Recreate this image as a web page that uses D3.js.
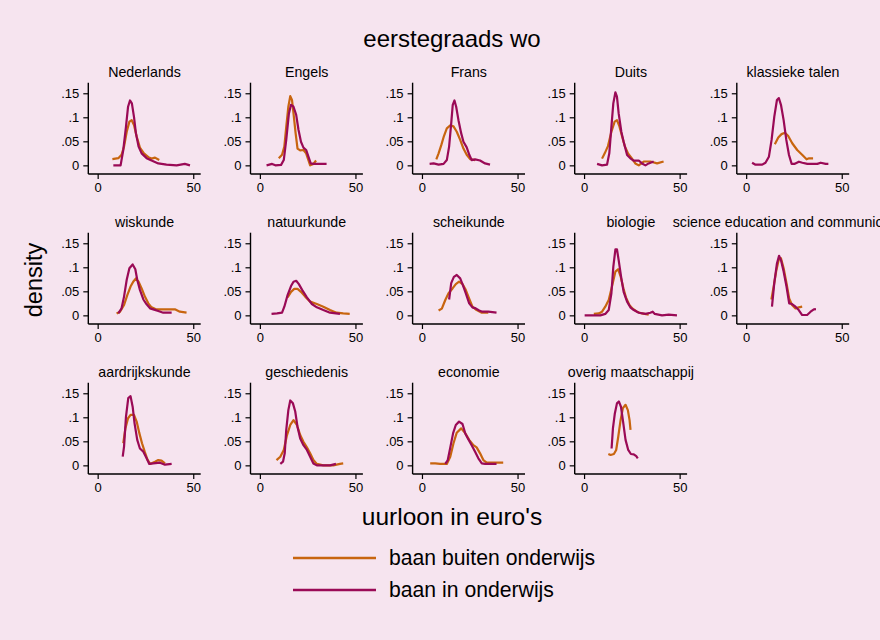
<!DOCTYPE html>
<html><head><meta charset="utf-8">
<script src="https://cdn.jsdelivr.net/npm/d3@7"></script>
<style>body{margin:0;background:#f6e4ef}svg{display:block}</style>
</head><body><svg id="c" width="880" height="640"></svg>
<script>
const panels = ["Nederlands","Engels","Frans","Duits","klassieke talen","wiskunde","natuurkunde","scheikunde","biologie","science education and communication","aardrijkskunde","geschiedenis","economie","overig maatschappij"];
const seriesNames = ["baan buiten onderwijs","baan in onderwijs"];
const yTicks = [0,0.05,0.1,0.15];
const yTickLabels = ["0",".05",".1",".15"];
const xTicks = [0,50];
// [x, density] pairs — orange: baan buiten onderwijs
const buiten = [
 [[7.7,.013],[10.8,.015],[12.5,.022],[13.8,.039],[15.2,.07],[16.6,.091],[17.8,.094],[19,.084],[20.4,.06],[22.1,.037],[24.2,.025],[26.5,.017],[28.2,.014],[30,.016],[32.2,.011]],
 [[9.9,.015],[11.6,.022],[12.8,.039],[13.8,.08],[14.9,.122],[15.9,.144],[16.8,.136],[17.6,.108],[18.7,.067],[19.7,.035],[21.1,.031],[22.8,.032],[24.2,.025],[25.4,.011],[26.3,0],[28,.003],[29.4,.01]],
 [[7.5,.0125],[8.7,.025],[10.1,.042],[11.5,.061],[13,.077],[14.8,.083],[16.5,.081],[18.2,.07],[20,.053],[21.7,.035],[23.4,.022],[25.2,.013],[27.8,.011]],
 [[9.4,.014],[10.8,.025],[12.5,.04],[14.3,.07],[16,.091],[17.2,.094],[18.5,.081],[19.9,.06],[21.3,.04],[23,.025],[25.1,.014],[26.8,.004],[28.6,0],[31.2,.008],[34.7,.008],[38.2,.004],[41.6,.008]],
 [[15,.044],[16.8,.058],[18.5,.065],[20.3,.068],[22,.061],[24.1,.046],[26.7,.032],[29.4,.0215],[31.6,.0125],[32.9,.0146],[35,.0146]],
 [[9.9,.004],[11.7,.0076],[13.8,.0215],[15.5,.042],[17.2,.06],[18.6,.07],[20,.077],[21.4,.07],[23,.056],[24.7,.039],[26.5,.025],[28.2,.0167],[30.5,.0125],[34.3,.0125],[40.4,.0125],[43,.0076],[46.5,.0055]],
 [[14.5,.0375],[16.3,.049],[18,.055],[19.7,.055],[21.5,.049],[23.7,.039],[26.3,.0285],[29.8,.0236],[33.2,.018],[36.7,.011],[40.1,.0055],[43.6,.004],[47,.003]],
 [[8.7,.01],[10.4,.014],[12.2,.032],[13.9,.046],[16,.056],[17.7,.065],[19.4,.07],[21.2,.065],[22.9,.053],[24.7,.035],[26.4,.018],[28.6,.011],[31.3,.0055],[34.7,.0055]],
 [[5.1,.003],[7.7,.004],[9.4,.0076],[11.1,.018],[12.9,.032],[14.6,.06],[16.4,.091],[17.8,.096],[19.2,.08],[20.6,.056],[21.9,.0375],[23.7,.0215],[25.4,.014],[27.7,.0076],[30.3,.004],[33.8,.0014]],
 [[13.2,.033],[14.4,.06],[15.8,.094],[17,.115],[18.2,.119],[19.6,.098],[21.1,.067],[22.5,.035],[24,.0215],[25.8,.0146],[27.5,.0167],[29.3,.018]],
 [[13.4,.046],[14.5,.077],[15.9,.098],[17.2,.105],[19,.105],[20.4,.091],[21.8,.067],[23.2,.046],[24.6,.0285],[26,.0125],[27.4,.003],[30,.0076],[31.7,.011],[33.4,.01],[35.2,.004]],
 [[8.7,.011],[10.7,.018],[12.5,.032],[14.2,.063],[15.9,.084],[17.6,.094],[19.4,.084],[21.1,.063],[22.8,.049],[24.6,.0375],[26.3,.025],[28,.011],[29.8,.003],[33.2,0],[38.4,0],[41.9,.003],[43.6,.004]],
 [[4.3,.004],[6.9,.004],[9.5,.003],[13,.003],[14.8,.018],[16.5,.046],[18.2,.068],[20.5,.077],[22.6,.067],[24.7,.053],[26.9,.042],[28.6,.0375],[30.4,.025],[32.1,.011],[33.9,.0055],[38.2,.0055],[42.5,.0055]],
 [[12.7,.0236],[13.9,.0215],[15.6,.0236],[16.8,.032],[17.9,.06],[19.1,.094],[20.3,.119],[21.7,.126],[22.9,.115],[23.8,.094],[24.3,.074]]
];
// maroon: baan in onderwijs
const inOnderwijs = [
 [[8.2,0],[12,0],[13.4,.032],[14.8,.08],[15.9,.122],[16.9,.135],[17.9,.129],[19,.101],[20,.067],[21.4,.039],[23,.025],[25.6,.015],[28.2,.01],[31.7,.004],[36,.0014],[41.3,0],[45.6,.003],[48.3,0]],
 [[3.5,0],[6.4,.003],[8.1,0],[11.1,.001],[12.5,.011],[13.8,.053],[15.2,.108],[16.3,.126],[17.6,.122],[19,.105],[20.2,.074],[21.5,.049],[22.8,.037],[24.2,.032],[25.4,.018],[26.6,.004],[28,.003],[29.8,.003],[34.9,.003]],
 [[4,.003],[6.1,.004],[8.7,.0014],[11.3,.003],[13,.011],[14.2,.039],[15.3,.0875],[16.1,.126],[17,.135],[17.9,.122],[19.1,.094],[20.5,.067],[21.7,.049],[23.4,.0375],[24.8,.0215],[26,.011],[27.8,.0125],[30.4,.01],[33,.004],[35.6,.0014]],
 [[6.8,.003],[9.4,0],[12,.0014],[13.2,.025],[14.3,.08],[15.3,.129],[16.4,.152],[17.2,.143],[18.1,.108],[19.5,.07],[20.7,.049],[22.5,.0215],[24.2,.0146],[25.9,.01],[28.6,.01],[30.3,.004],[32.1,0],[33.8,.004],[36.4,.008]],
 [[3.1,.0055],[4.9,.0014],[8.4,.0014],[10.1,.0055],[11.9,.018],[13.3,.053],[14.7,.101],[16.1,.136],[17.1,.14],[18.2,.126],[19.6,.094],[21,.053],[22.4,.0215],[23.8,.003],[25.2,.003],[27.6,.0076],[29.4,.0055],[32,.003],[37.2,.003],[39,.0055],[41.6,.003],[43,.003]],
 [[10.8,.004],[12.5,.0146],[13.8,.039],[15.2,.074],[16.6,.098],[18.3,.106],[19.7,.096],[20.7,.074],[22.1,.053],[23.9,.033],[25.6,.023],[27.4,.0146],[29.1,.0125],[31.7,.009],[34.3,.0055],[38.7,.0055]],
 [[6.1,.003],[9,.004],[11.6,.0055],[12.8,.018],[14.5,.042],[16.3,.061],[17.6,.07],[19,.072],[20.4,.065],[22.1,.053],[24.6,.0375],[27.2,.0236],[29.8,.0167],[33.2,.011],[36.7,.0055],[41.9,.003]],
 [[14.2,.033],[15.3,.067],[16.7,.08],[18.2,.084],[20,.077],[21.4,.063],[22.9,.046],[24.7,.025],[26.4,.0167],[28.1,.0146],[29.9,.01],[31.6,.0076],[34.7,.0076],[39,.0055]],
 [[0.3,0],[4.2,0],[8.5,0],[11.1,.003],[12.9,.011],[14.3,.046],[15.3,.101],[16.4,.1375],[17.2,.1375],[18.1,.115],[19.5,.077],[20.7,.049],[22.5,.0285],[24.2,.0167],[26,.011],[28.6,.0055],[32.1,.003],[34.7,.0055],[35.9,.0076],[37,.003],[40.8,0],[44.3,.0014],[48.6,0]],
 [[13.5,.018],[14.7,.067],[16.1,.108],[17.2,.124],[18.2,.115],[19.6,.091],[21.1,.06],[22.5,.025],[24,.0236],[25.8,.018],[27.5,.011],[29.3,.0007],[31.9,.0007],[33.7,.0076],[35.4,.0125],[36.5,.013]],
 [[13.1,.018],[13.8,.039],[14.8,.101],[16,.14],[17.2,.144],[18.3,.122],[19.3,.0875],[20.7,.053],[22.1,.035],[23.9,.0285],[25.6,.0146],[27,.003],[29.1,.004],[32.6,.0055],[35.2,.0014],[38.7,.003]],
 [[10.7,.003],[12.1,.0076],[13,.025],[13.8,.074],[14.9,.115],[15.9,.135],[17.3,.129],[18.5,.112],[19.7,.08],[21.1,.056],[22.8,.042],[24.6,.032],[26.3,.018],[28,.004],[29.8,0],[36.7,0],[39.8,.003]],
 [[12.2,.003],[13.5,.011],[14.9,.039],[16.3,.067],[17.7,.084],[19.4,.091],[21.2,.086],[22.6,.067],[24.3,.054],[26,.042],[27.8,.0285],[29.5,.0146],[31.3,.004],[33,.003],[39,.003]],
 [[14.4,.035],[15.1,.077],[16.1,.108],[17.2,.129],[18.2,.133],[19.3,.122],[20.3,.094],[21.7,.053],[23.1,.032],[24.5,.0236],[26,.023],[27.3,.019],[28.1,.0146]]
];

const colors = {buiten:"#c8650f", inOnderwijs:"#9a0a56"};
const font = "'Liberation Sans', Arial, sans-serif";
const svg = d3.select("#c");
svg.append("rect").attr("width",880).attr("height",640).attr("fill","#f6e4ef");

const colLeft = [88.3,250.5,412.6,574.7,736.8];
const rowTop = [82.7,232.7,382.7];
const pw = 112.4, ph = 91.3;

const x = d3.scaleLinear().domain([-4.9,53.9]).range([0,pw]);
const y = d3.scaleLinear().domain([-0.018,0.172]).range([ph,0]);
const line = d3.line().x(d=>x(d[0])).y(d=>y(d[1]));

panels.forEach((name,i)=>{
  const c = i%5, r = Math.floor(i/5);
  const g = svg.append("g").attr("transform",`translate(${colLeft[c]},${rowTop[r]})`);
  const ya = g.append("g").call(d3.axisLeft(y).tickValues(yTicks).tickFormat((d,k)=>yTickLabels[k]).tickSize(5).tickPadding(4));
  const xa = g.append("g").attr("transform",`translate(0,${ph})`).call(d3.axisBottom(x).tickValues(xTicks).tickSize(5).tickPadding(4));
  [ya,xa].forEach(a=>{
    a.select(".domain").attr("stroke","#000").attr("stroke-width",1.4);
    a.selectAll(".tick line").attr("stroke","#000").attr("stroke-width",1.2);
    a.selectAll("text").attr("font-family",font).attr("font-size",13).attr("fill","#000");
  });
  ya.select(".domain").attr("d",`M0,${ph}V0`);
  xa.select(".domain").attr("d",`M0,0H${pw}`);
  g.append("path").datum(buiten[i]).attr("d",line).attr("fill","none").attr("stroke",colors.buiten).attr("stroke-width",2.2).attr("stroke-linejoin","round");
  g.append("path").datum(inOnderwijs[i]).attr("d",line).attr("fill","none").attr("stroke",colors.inOnderwijs).attr("stroke-width",2.2).attr("stroke-linejoin","round");
  g.append("text").attr("x",pw/2).attr("y",-6).attr("text-anchor","middle").attr("font-family",font).attr("font-size",14.2).attr("fill","#000").text(name);
});

svg.append("text").attr("x",452).attr("y",47).attr("text-anchor","middle").attr("font-family",font).attr("font-size",24).text("eerstegraads wo");
svg.append("text").attr("transform","translate(42,280) rotate(-90)").attr("text-anchor","middle").attr("font-family",font).attr("font-size",23.5).text("density");
svg.append("text").attr("x",452).attr("y",525).attr("text-anchor","middle").attr("font-family",font).attr("font-size",24.5).text("uurloon in euro's");

const lg = svg.append("g");
seriesNames.forEach((s,k)=>{
  const yy = 558 + k*32;
  lg.append("line").attr("x1",293).attr("x2",376).attr("y1",yy).attr("y2",yy).attr("stroke",k===0?colors.buiten:colors.inOnderwijs).attr("stroke-width",2.5);
  lg.append("text").attr("x",389).attr("y",yy+7).attr("font-family",font).attr("font-size",21.2).text(s);
});
</script></body></html>
